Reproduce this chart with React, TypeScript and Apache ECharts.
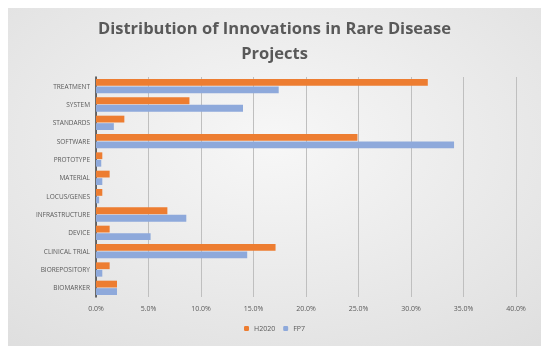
import React, { useEffect, useRef } from "react";
import * as echarts from "echarts";

const categories = [
  "BIOMARKER",
  "BIOREPOSITORY",
  "CLINICAL TRIAL",
  "DEVICE",
  "INFRASTRUCTURE",
  "LOCUS/GENES",
  "MATERIAL",
  "PROTOTYPE",
  "SOFTWARE",
  "STANDARDS",
  "SYSTEM",
  "TREATMENT",
];
const h2020 = [2.0, 1.3, 17.1, 1.3, 6.8, 0.6, 1.3, 0.6, 24.9, 2.7, 8.9, 31.6];
const fp7 = [2.0, 0.6, 14.4, 5.2, 8.6, 0.3, 0.6, 0.5, 34.1, 1.7, 14.0, 17.4];
const seriesNames = ["H2020", "FP7"];
const titleText = "Distribution of Innovations in Rare Disease\nProjects";

export default function App() {
  const ref = useRef<HTMLDivElement>(null);
  useEffect(() => {
    const chart = echarts.init(ref.current!, null, { renderer: "svg" });
    chart.setOption({
      animation: false,
      backgroundColor: {
        type: "radial",
        x: 0.5,
        y: 0.4,
        r: 0.8,
        colorStops: [
          { offset: 0, color: "#f7f7f7" },
          { offset: 1, color: "#dedede" },
        ],
      },
      title: {
        text: titleText,
        left: "center",
        top: 2,
        textStyle: {
          fontFamily: "Open Sans",
          fontWeight: "bold",
          fontSize: 16.5,
          color: "#595959",
          lineHeight: 25,
        },
      },
      legend: {
        data: seriesNames,
        bottom: 9,
        left: "center",
        itemWidth: 5,
        itemHeight: 5,
        itemGap: 8,
        textStyle: { fontSize: 7, color: "#595959", fontFamily: "Open Sans" },
      },
      grid: { left: 88, right: 25, top: 69, bottom: 49 },
      xAxis: {
        type: "value",
        min: 0,
        max: 40,
        interval: 5,
        axisLabel: {
          formatter: (v: number) => v.toFixed(1) + "%",
          fontSize: 7,
          color: "#595959",
          fontFamily: "Open Sans",
        },
        axisLine: { show: false },
        axisTick: { show: false },
        splitLine: { show: true, lineStyle: { color: "#bfbfbf", width: 1 } },
      },
      yAxis: {
        type: "category",
        data: categories,
        axisLine: { show: true, lineStyle: { color: "#404040", width: 1.5 } },
        axisTick: { show: false },
        axisLabel: {
          fontSize: 6.5,
          color: "#595959",
          fontFamily: "Open Sans",
          margin: 6,
        },
      },
      series: [
        {
          name: seriesNames[0],
          type: "bar",
          data: h2020,
          itemStyle: { color: "#ED7D31" },
          barGap: "10%",
          barCategoryGap: "22%",
        },
        {
          name: seriesNames[1],
          type: "bar",
          data: fp7,
          itemStyle: { color: "#8EA9DB" },
        },
      ],
    });
    return () => chart.dispose();
  }, []);
  return (
    <div
      ref={ref}
      style={{ position: "fixed", left: 8, top: 8, width: 533, height: 338 }}
    />
  );
}
